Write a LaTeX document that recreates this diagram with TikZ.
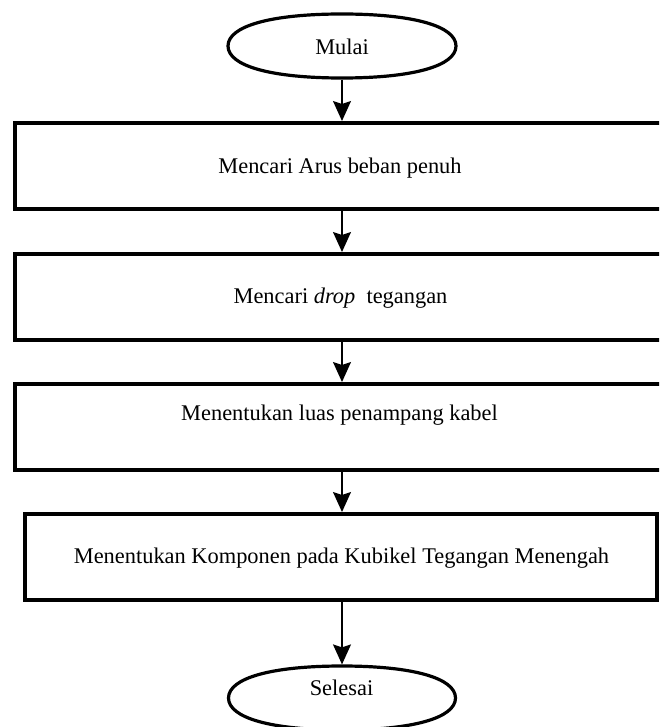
\documentclass[tikz,border=0pt]{standalone}
\usepackage{fontspec}
\setmainfont{Liberation Serif}
\usetikzlibrary{shapes.geometric,arrows.meta}
\begin{document}
\begin{tikzpicture}[x=0.5pt,y=-0.5pt,
  term/.style={ellipse,inner sep=0pt,outer sep=0.8pt},
  termline/.style={draw=black,line width=1.6pt},
  procbox/.style={draw=black,line width=2pt,rectangle,inner sep=0pt},
  lbl/.style={inner sep=0pt,font=\fontsize{11.2}{13}\selectfont},
  flow/.style={draw=black,line width=0.75pt,-{Stealth[length=10pt,width=9pt,inset=1.5pt]}}]
\useasboundingbox (0,0) rectangle (659,727);
\fill[white] (0,0) rectangle (659,727);
\begin{scope}
\clip (0,0) rectangle (659,727);
\node[term,minimum width=114pt,minimum height=32pt] (mulai) at (342,46) {};
\draw[termline,shift={(342,46)}] (114,0) .. controls (114,-20) and (71,-32) .. (0,-32)
  .. controls (-71,-32) and (-114,-20) .. (-114,0)
  .. controls (-114,20) and (-71,32) .. (0,32)
  .. controls (71,32) and (114,20) .. (114,0) -- cycle;
\node[lbl] (tmulai) at (342,47) {Mulai};
\node[procbox,minimum width=327.5pt,minimum height=43pt] (b1) at (342.5,166) {};
\node[lbl] (t1) at (340,168) {Mencari Arus beban penuh};
\node[procbox,minimum width=327.5pt,minimum height=42.75pt] (b2) at (342.5,296.75) {};
\node[lbl] (t2) at (340.5,298) {Mencari \textit{drop}\ \ tegangan};
\node[procbox,minimum width=327.5pt,minimum height=43pt] (b3) at (342.5,427) {};
\node[lbl] (t3) at (339.5,415) {Menentukan luas penampang kabel};
\node[procbox,minimum width=316pt,minimum height=43pt] (b4) at (341,557) {};
\node[lbl] (t4) at (341.5,558) {Menentukan Komponen pada Kubikel Tegangan Menengah};
\node[term,minimum width=113.5pt,minimum height=32pt] (selesai) at (342,698) {};
\draw[termline,shift={(342,698)}] (113.5,0) .. controls (113.5,-20) and (70.5,-32) .. (0,-32)
  .. controls (-70.5,-32) and (-113.5,-20) .. (-113.5,0)
  .. controls (-113.5,20) and (-70.5,32) .. (0,32)
  .. controls (70.5,32) and (113.5,20) .. (113.5,0) -- cycle;
\node[lbl] (tselesai) at (341.5,688) {Selesai};
\draw[flow] (mulai.south) -- (mulai.south |- b1.north);
\draw[flow] (mulai.south |- b1.south) -- (mulai.south |- b2.north);
\draw[flow] (mulai.south |- b2.south) -- (mulai.south |- b3.north);
\draw[flow] (mulai.south |- b3.south) -- (mulai.south |- b4.north);
\draw[flow] (mulai.south |- b4.south) -- (selesai.north);
\end{scope}
\end{tikzpicture}
\end{document}
